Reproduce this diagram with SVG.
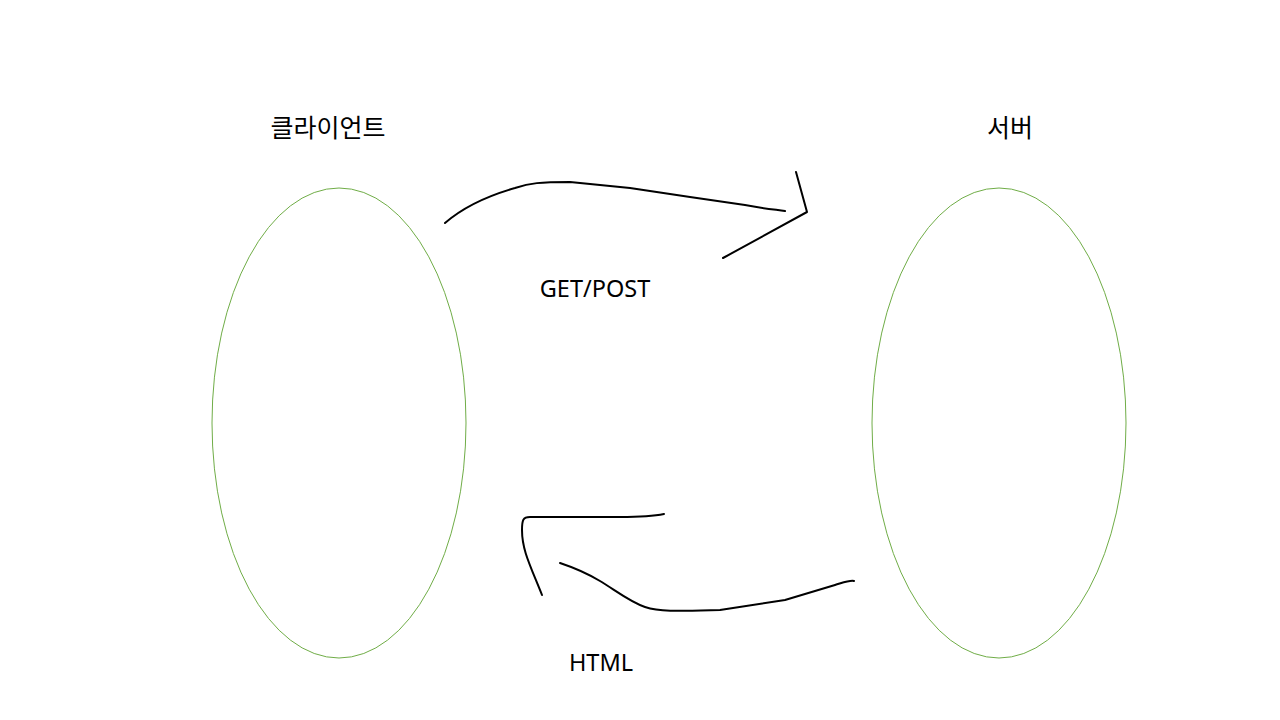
<svg xmlns="http://www.w3.org/2000/svg" width="1280" height="720" viewBox="0 0 1280 720">
<style>
.node{fill:none;stroke:#70ad47;stroke-width:1}
.lbl{font-family:"Noto Sans CJK KR","Noto Sans",sans-serif;font-size:25px;fill:#000}
.elbl{font-family:"Noto Sans","Noto Sans CJK KR",sans-serif;font-size:23.5px;fill:#000}
.edge{fill:none;stroke:#000;stroke-width:2;stroke-linecap:round;stroke-linejoin:round}
</style>
<rect width="1280" height="720" fill="#fff"/>
<g id="client">
<ellipse class="node" cx="339" cy="423" rx="127" ry="235"/>
<text class="lbl" x="328" y="137" text-anchor="middle">클라이언트</text>
</g>
<g id="server">
<ellipse class="node" cx="999" cy="423" rx="127" ry="235"/>
<text class="lbl" x="1010" y="137" text-anchor="middle">서버</text>
</g>
<g id="connectors">
<path class="edge" d="M445,223 C460,210 480,198 515,188 C530,183 540,182 570,182 L630,188 L690,197 L745,205 C760,208 770,209 785,211"/>
<path class="edge" d="M796,172 L807,212 L723,258"/>
<path class="edge" d="M664,514 C650,517 635,517 620,517 L530,517 C523,517 522,520 522,530 C522,550 530,565 542,595"/>
<path class="edge" d="M560,563 C575,568 590,575 600,581 C615,590 630,602 645,607 C660,612 680,611 720,610 L785,600 L835,585 C845,582 850,580 854,581"/>
<text class="elbl" x="595" y="297" text-anchor="middle">GET/POST</text>
<text class="elbl" x="601" y="671" text-anchor="middle">HTML</text>
</g>
</svg>
